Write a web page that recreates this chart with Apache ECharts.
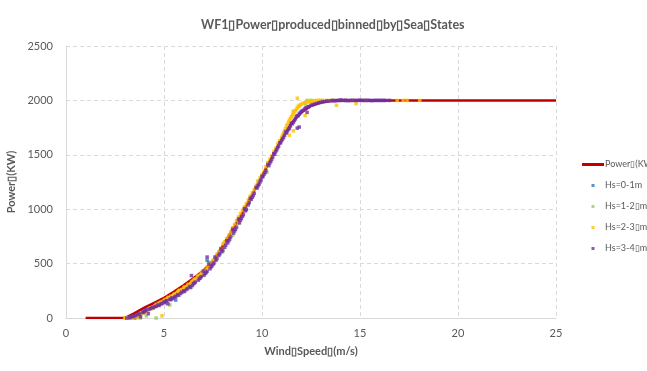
<!DOCTYPE html>
<html>
<head>
<meta charset="utf-8">
<title>WF1 Power produced binned by Sea States</title>
<script src="https://cdn.jsdelivr.net/npm/echarts@6/dist/echarts.min.js"></script>
<style>
    html, body { margin: 0; padding: 0; background: #fff; }
    #main { width: 647px; height: 371px; }
</style>
</head>
<body>
<div id="main"></div>
<script type="text/javascript">
    // power curve (red line)
    var curveSpeed = [1, 2, 3, 3.5, 4, 4.5, 5, 5.5, 6, 6.5, 7, 7.5, 8, 8.5, 9, 9.5, 10, 10.5, 11, 11.5, 12, 12.5, 13, 13.5, 14, 15, 20, 25];
    var curvePower = [0, 0, 0, 45, 95, 140, 185, 240, 300, 365, 435, 525, 665, 815, 970, 1135, 1305, 1480, 1645, 1790, 1890, 1950, 1980, 1995, 2000, 2000, 2000, 2000];

    // measured points, [wind speed, power]
    var hs01 = [[3.5, 0], [3.6, 5], [4.7, 140], [5.6, 165], [7.2, 530], [7.3, 510], [10.0, 1300], [12.5, 1990]];
    var hs12 = [[3.3, 0], [3.8, 0], [4.1, 20], [4.6, 0], [5.3, 120], [6.0, 240], [6.4, 285], [7.0, 390], [8.0, 610], [8.5, 760],
        [8.8, 870], [9.2, 990], [9.3, 1060], [9.8, 1260], [10.25, 1340], [10.3, 1420], [11.6, 1900], [12.2, 1970], [12.3, 2000], [12.5, 2000], [13.0, 2000]];
    var hs23 = [[3.0, 0], [3.1, 2], [3.2, 0], [3.3, 5], [3.4, 0], [3.5, 10], [3.6, 20], [3.7, 5], [3.8, 35], [4.0, 50],
        [4.2, 70], [4.3, 95], [4.5, 100], [4.6, 125], [4.8, 140], [4.9, 20], [5.0, 160], [5.2, 190], [5.3, 175], [5.5, 215],
        [5.7, 240], [5.8, 255], [6.0, 275], [6.2, 300], [6.4, 330], [6.5, 345], [6.7, 380], [6.9, 410], [7.0, 425], [7.3, 490],
        [7.5, 530], [7.6, 545], [7.9, 640], [8.0, 680], [8.2, 730], [8.5, 830], [8.6, 860], [8.8, 930], [9.0, 990], [9.1, 1020],
        [9.4, 1120], [9.6, 1180], [9.7, 1220], [10.0, 1320], [10.3, 1430], [10.5, 1490], [10.7, 1560], [10.9, 1630], [11.0, 1660], [11.1, 1700],
        [11.2, 1740], [11.3, 1780], [11.4, 1820], [11.4, 1680], [11.5, 1850], [11.6, 1880], [11.6, 1720], [11.7, 1905], [11.8, 1930], [11.8, 2020],
        [11.9, 1950], [12.0, 1965], [12.2, 1980], [12.2, 1860], [12.4, 1990], [12.6, 1995], [12.8, 2000], [13.1, 2000], [13.5, 2000], [13.8, 1955],
        [14.0, 2000], [14.6, 2000], [14.8, 1970], [15.3, 2000], [16.9, 2000], [17.2, 2000], [17.4, 2000], [18.05, 2000],
        [3.05, 0], [3.15, 0], [3.25, 3], [3.35, 0], [3.45, 8], [3.55, 15], [3.65, 12], [3.75, 28], [3.85, 40], [3.95, 48],
        [4.05, 60], [4.15, 66], [4.35, 85], [4.45, 98], [4.55, 110], [4.65, 118], [4.75, 130], [4.85, 148], [4.95, 152], [5.05, 170],
        [5.15, 175], [5.25, 185], [5.35, 200], [5.45, 205], [5.55, 222], [5.65, 230], [5.75, 250], [5.9, 262], [6.05, 285], [6.1, 280],
        [6.25, 310], [6.3, 305], [6.45, 335], [6.55, 352], [6.6, 360], [6.75, 388], [6.85, 395], [6.95, 420], [7.1, 440], [7.2, 465],
        [7.35, 500], [7.4, 505], [7.65, 560], [7.7, 585], [7.8, 610], [8.05, 690], [8.1, 700], [8.3, 760], [8.4, 790], [8.7, 895],
        [8.9, 960], [9.2, 1050], [9.3, 1085], [9.5, 1150], [9.8, 1250], [9.9, 1290], [10.1, 1350], [10.2, 1390], [10.4, 1460], [10.6, 1530],
        [10.8, 1600], [11.05, 1680], [11.15, 1720], [11.25, 1765], [11.35, 1800], [11.45, 1835], [11.55, 1865], [11.65, 1895], [11.75, 1915], [11.85, 1945],
        [11.95, 1960], [12.1, 1975], [12.3, 1985], [12.5, 1993], [12.7, 1998], [12.9, 2000], [13.3, 2000], [13.7, 2000], [14.3, 2000]];
    var hs34 = [[3.1, 0], [3.3, 8], [3.4, 18], [3.6, 30], [3.7, 42], [3.8, 10], [3.9, 55], [4.0, 62], [4.1, 75], [4.2, 40],
        [4.3, 88], [4.4, 100], [4.6, 108], [4.7, 120], [4.9, 135], [5.0, 148], [5.1, 155], [5.2, 130], [5.3, 172], [5.4, 185],
        [5.6, 200], [5.7, 215], [5.9, 238], [6.0, 250], [6.2, 272], [6.3, 290], [6.4, 390], [6.5, 315], [6.6, 330], [6.8, 362],
        [6.9, 380], [7.1, 410], [7.2, 430], [7.2, 560], [7.4, 470], [7.5, 495], [7.7, 545], [7.8, 575], [8.0, 625], [8.1, 650],
        [8.3, 710], [8.4, 745], [8.6, 800], [8.7, 835], [8.9, 900], [9.0, 935], [9.2, 1000], [9.3, 1040], [9.5, 1110], [9.6, 1145],
        [9.8, 1215], [9.9, 1250], [10.1, 1320], [10.2, 1355], [10.4, 1425], [10.5, 1460], [10.7, 1530], [10.8, 1565], [11.0, 1630], [11.1, 1660],
        [11.3, 1720], [11.4, 1745], [11.6, 1800], [11.7, 1830], [11.8, 1745], [11.9, 1755], [11.9, 1875], [12.0, 1895], [12.2, 1925], [12.3, 1890],
        [12.4, 1945], [12.6, 1960], [12.8, 1972], [13.0, 1982], [13.2, 1990], [13.4, 1995], [13.7, 1998], [14.0, 2000], [14.3, 2000], [14.7, 2000],
        [15.1, 2000], [15.5, 2000], [15.9, 2000], [16.3, 2000],
        [3.25, 3], [3.45, 12], [3.55, 22], [3.75, 35], [3.95, 50], [4.05, 70], [4.25, 82], [4.45, 92], [4.55, 105], [4.75, 115],
        [4.85, 128], [5.05, 140], [5.15, 160], [5.35, 168], [5.45, 178], [5.55, 192], [5.75, 208], [5.85, 225], [6.05, 245], [6.15, 262],
        [6.35, 280], [6.45, 300], [6.55, 322], [6.75, 348], [6.85, 368], [7.05, 395], [7.15, 418], [7.35, 452], [7.45, 480], [7.55, 505],
        [7.65, 530], [7.85, 590], [7.95, 610], [8.15, 670], [8.25, 690], [8.35, 725], [8.55, 780], [8.65, 815], [8.85, 875], [8.95, 915],
        [9.05, 950], [9.15, 985], [9.35, 1060], [9.45, 1090], [9.55, 1125], [9.75, 1195], [9.85, 1230], [9.95, 1270], [10.05, 1300], [10.15, 1335],
        [10.35, 1400], [10.45, 1440], [10.55, 1480], [10.65, 1505], [10.75, 1545], [10.85, 1580], [10.95, 1610], [11.05, 1645], [11.15, 1680], [11.25, 1700],
        [11.35, 1735], [11.45, 1765], [11.55, 1785], [11.65, 1815], [11.75, 1850], [11.85, 1860], [11.95, 1885], [12.05, 1905], [12.15, 1915], [12.25, 1935],
        [12.35, 1940], [12.5, 1955], [12.7, 1968], [12.9, 1978], [13.1, 1988], [13.3, 1993], [13.55, 1997], [13.85, 2000], [14.15, 2000], [14.5, 2000],
        [14.9, 2000], [15.3, 2000], [15.7, 2000], [16.1, 2000], [16.5, 2000],
        [7.0, 430], [7.3, 495], [7.6, 560], [7.9, 635], [8.2, 710], [8.5, 815], [8.8, 910], [9.1, 1005], [9.4, 1100], [9.7, 1200],
        [10.0, 1300], [10.3, 1410], [10.6, 1510], [10.9, 1610], [11.2, 1710], [11.5, 1790], [11.8, 1860],
        [13.6, 2000], [13.75, 1997], [13.95, 2000], [14.05, 2002], [14.25, 2000], [14.4, 1998], [14.6, 2000], [14.8, 2000], [15.0, 2002], [15.2, 2000],
        [15.4, 2000], [15.6, 1998], [15.8, 2000], [16.0, 2000], [16.2, 2000]];

    var curveData = [];
    for (var i = 0; i < curveSpeed.length; i++) {
        curveData.push([curveSpeed[i], curvePower[i]]);
    }

    var B = '\u25AF';
    var font = 'Lato, "Liberation Sans", sans-serif';
    var txt = '#595959';
    var sq = 'path://M0,0h1v1h-1z';

    var myChart = echarts.init(document.getElementById('main'));
    myChart.setOption({
        animation: false,
        textStyle: { fontFamily: font },
        title: {
            text: 'WF1' + B + 'Power' + B + 'produced' + B + 'binned' + B + 'by' + B + 'Sea' + B + 'States',
            left: 196,
            top: 13,
            textStyle: { fontFamily: font, fontSize: 12.5, fontWeight: 'bold', color: txt }
        },
        legend: {
            orient: 'vertical',
            left: 577,
            top: 155,
            itemWidth: 22,
            itemHeight: 3,
            itemGap: 12,
            symbolKeepAspect: true,
            textStyle: { fontFamily: font, fontSize: 9, color: txt, padding: [0, 0, 0, -4] },
            data: [
                { name: 'Power' + B + '(KW)', icon: 'rect' },
                { name: 'Hs=0-1m', icon: sq },
                { name: 'Hs=1-2' + B + 'm', icon: sq },
                { name: 'Hs=2-3' + B + 'm', icon: sq },
                { name: 'Hs=3-4' + B + 'm', icon: sq }
            ]
        },
        grid: { left: 66, right: 91, top: 46, bottom: 53, outerBoundsMode: 'none' },
        xAxis: {
            type: 'value',
            min: 0, max: 25, interval: 5,
            name: 'Wind' + B + 'Speed' + B + '(m/s)',
            nameLocation: 'middle',
            nameGap: 28,
            nameTextStyle: { fontFamily: font, fontSize: 11, fontWeight: 'bold', color: txt },
            axisLine: { lineStyle: { color: '#d9d9d9', width: 1 } },
            axisTick: { show: false },
            axisLabel: { fontFamily: font, fontSize: 11, color: txt, margin: 10 },
            splitLine: { show: true, lineStyle: { color: '#d9d9d9', type: [4, 3] } }
        },
        yAxis: {
            type: 'value',
            min: 0, max: 2500, interval: 500,
            name: 'Power' + B + '(KW)',
            nameLocation: 'middle',
            nameGap: 46,
            nameTextStyle: { fontFamily: font, fontSize: 11, fontWeight: 'bold', color: txt },
            axisLine: { show: true, lineStyle: { color: '#d9d9d9', width: 1 } },
            axisTick: { show: false },
            axisLabel: { fontFamily: font, fontSize: 11, color: txt, margin: 13, formatter: function (v) { return String(v); } },
            splitLine: { show: true, lineStyle: { color: '#d9d9d9', type: [4, 3] } }
        },
        series: [
            {
                name: 'Power' + B + '(KW)',
                type: 'line',
                z: 1,
                data: curveData,
                showSymbol: false,
                lineStyle: { color: '#c00000', width: 2.5 },
                itemStyle: { color: '#c00000' }
            },
            { name: 'Hs=0-1m', type: 'scatter', z: 3, data: hs01, symbol: 'rect', symbolSize: 3.5, itemStyle: { color: '#2e75b6' } },
            { name: 'Hs=1-2' + B + 'm', type: 'scatter', z: 3, data: hs12, symbol: 'rect', symbolSize: 3.5, itemStyle: { color: '#92d050' } },
            { name: 'Hs=2-3' + B + 'm', type: 'scatter', z: 3, data: hs23, symbol: 'rect', symbolSize: 3.5, itemStyle: { color: '#ffc000' } },
            { name: 'Hs=3-4' + B + 'm', type: 'scatter', z: 3, data: hs34, symbol: 'rect', symbolSize: 3.5, itemStyle: { color: '#7030a0' } }
        ]
    });
</script>
</body>
</html>
